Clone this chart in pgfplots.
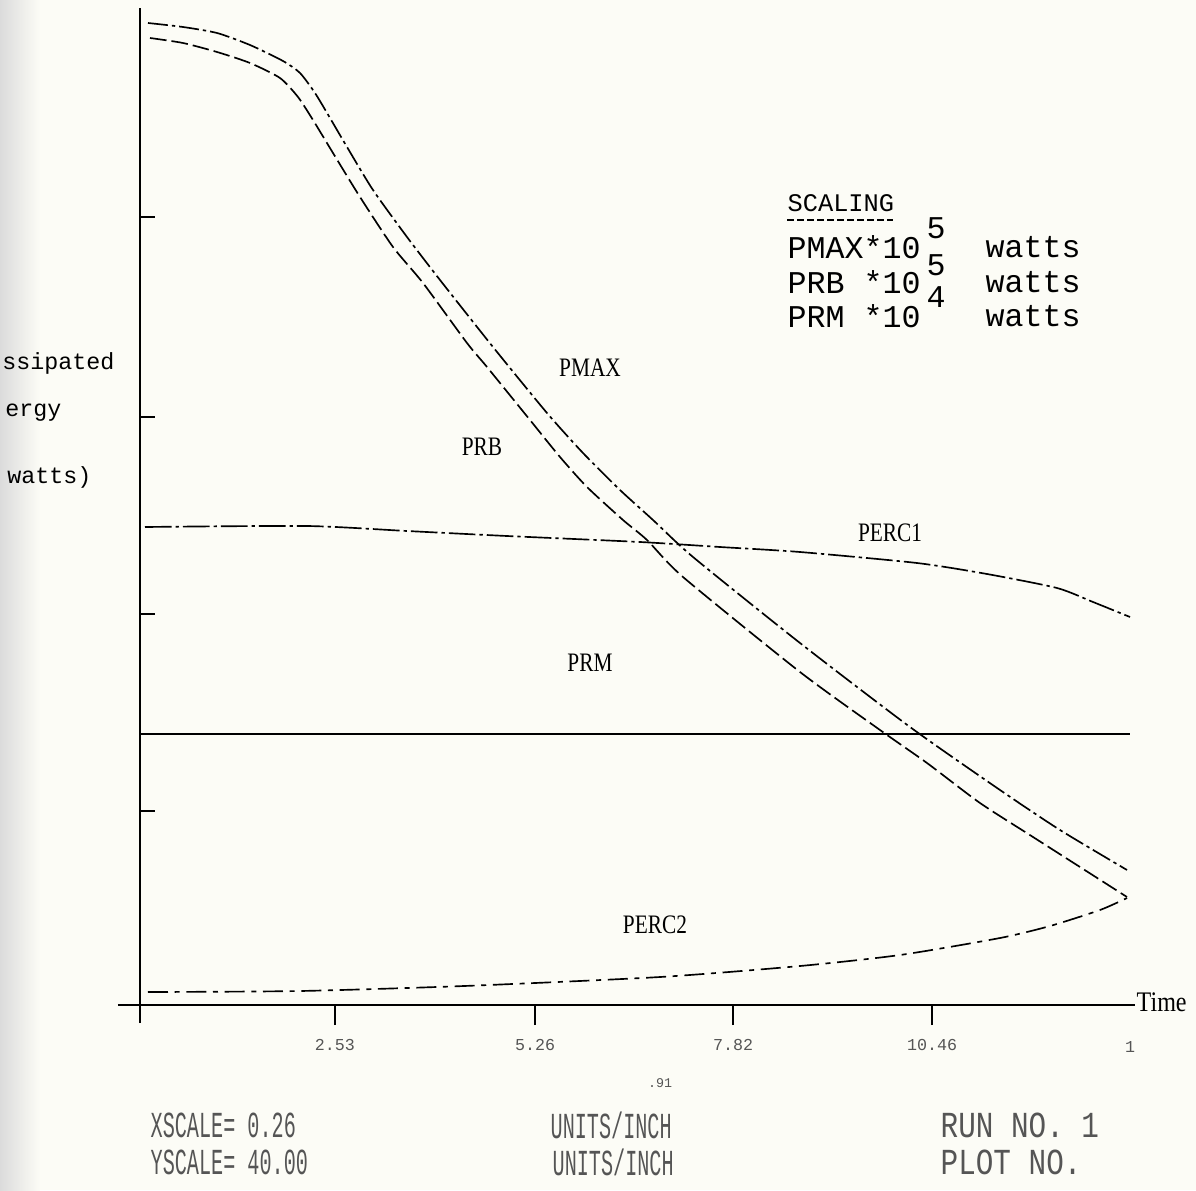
\documentclass[border=0pt]{standalone}
\usepackage{pgfplots}
\pgfplotsset{compat=1.18}
\usepackage{fontspec}
\setmainfont{Liberation Serif}
\newfontfamily\mono{Liberation Mono}
\definecolor{paper}{RGB}{252,252,246}
\definecolor{dotink}{RGB}{85,85,85}

% units: 1 unit = 1 px of the scan, origin where the axes cross
\begin{document}
\begin{tikzpicture}
\path[use as bounding box, fill=paper] (-42pt,-55.5pt) rectangle (316.8pt,301.5pt);
\shade[left color=black!14, right color=paper] (-42pt,-55.5pt) rectangle (-30pt,301.5pt);
\begin{axis}[
    anchor=origin, at={(0pt,0pt)},
    x=0.3pt, y=0.3pt,
    xmin=-22, xmax=995, ymin=-18, ymax=997,
    axis lines=middle,
    axis line style={-, line width=0.8pt},
    clip=false,
    tick align=outside,
    major tick length=6pt,
    xtick={195,395,593,792},
    xticklabels={2.53,5.26,7.82,10.46},
    xticklabel style={font=\mono\fontsize{5}{6}\selectfont, text=dotink, anchor=center, yshift=-6pt},
    x tick style={line width=0.8pt, black},
    ytick=\empty,
]
% PMAX
\addplot[black, line width=0.5pt, smooth, tension=0.4, dash pattern=on 6pt off 1.2pt on 1pt off 1.2pt] coordinates {
(8,982)(43,978)(77,972)(110,960)(143,944)(160,932)(175,912)(190,887)(207,858)
(233,815)(267,768)(300,725)(353,658)(407,592)(443,552)(480,515)(513,485)
(553,448)(660,362)(770,278)(860,215)(920,175)(987,135)};
% PRB
\addplot[black, line width=0.5pt, smooth, tension=0.4, dash pattern=on 5pt off 1.5pt] coordinates {
(10,967)(43,962)(77,953)(110,942)(140,927)(158,908)(173,885)(193,852)(220,808)
(253,758)(283,722)(327,662)(347,638)(390,585)(420,548)(447,518)(483,485)
(507,465)(543,428)(660,333)(740,275)(787,242)(840,202)(893,168)(987,108)};
% PERC1
\addplot[black, line width=0.5pt, smooth, tension=0.4, dash pattern=on 8pt off 1.2pt on 1pt off 1.2pt] coordinates {
(5,478)(167,479)(267,474)(367,469)(500,463)(580,458)(660,453)(777,442)
(847,431)(917,417)(953,403)(990,388)};
% PRM
\addplot[black, line width=0.6pt] coordinates {(0,271)(990,271)};
% PERC2
\addplot[black, line width=0.5pt, smooth, tension=0.4, dash pattern=on 6pt off 2pt on 1.5pt off 2pt] coordinates {
(8,13)(160,14)(324,19)(520,28)(660,39)(760,50)(860,67)(910,79)(960,95)(987,107)};

% y ticks, pointing into the plot
\draw[line width=0.8pt] (0,194) -- (15,194);
\draw[line width=0.8pt] (0,391) -- (15,391);
\draw[line width=0.8pt] (0,588) -- (15,588);
\draw[line width=0.8pt] (0,788) -- (15,788);

% curve names
\node[font=\fontsize{8}{9}\selectfont] at (450,637) {\scalebox{0.8}[1]{PMAX}};
\node[font=\fontsize{8}{9}\selectfont] at (342,558) {\scalebox{0.8}[1]{PRB}};
\node[font=\fontsize{8}{9}\selectfont] at (750,472) {\scalebox{0.8}[1]{PERC1}};
\node[font=\fontsize{8}{9}\selectfont] at (450,342) {\scalebox{0.8}[1]{PRM}};
\node[font=\fontsize{8}{9}\selectfont] at (515,80) {\scalebox{0.8}[1]{PERC2}};
\node[font=\fontsize{8.5}{9}\selectfont, anchor=west, inner sep=0pt] at (996,3) {\scalebox{0.85}[1]{Time}};
\node[font=\mono\fontsize{5}{6}\selectfont, text=dotink] at (990,-42) {1};
\node[font=\mono\fontsize{4}{5}\selectfont, text=dotink] at (520,-78) {.91};

% scaling block
\node[font=\mono\fontsize{7.6}{8}\selectfont, anchor=west, inner sep=0pt] at (647,802) {SCALING};
\draw[line width=0.6pt, dash pattern=on 2pt off 1pt] (647,785) -- (753,785);
\begin{scope}[every node/.style={font=\mono\fontsize{9.5}{10}\selectfont, anchor=west, inner sep=0pt}]
\node at (647,758) {PMAX*10};
\node at (647,723) {PRB *10};
\node at (647,689) {PRM *10};
\node at (845,758) {watts};
\node at (845,723) {watts};
\node at (845,689) {watts};
\node at (786,777) {5};
\node at (786,740) {5};
\node at (786,708) {4};
\end{scope}

% y label, as much of it as the scan shows
\begin{scope}[every node/.style={font=\mono\fontsize{7}{8}\selectfont, anchor=east, inner sep=0pt}]
\node at (-25,642) {ssipated};
\node at (-78,592) {ergy};
\node at (-48,528) {watts)};
\end{scope}

% plotter footer
\begin{scope}[every node/.style={font=\mono\fontsize{11}{12}\selectfont, text=dotink, anchor=west, inner sep=0pt}]
\node at (10,-120) {\scalebox{0.55}[1]{XSCALE= 0.26}};
\node at (410,-120) {\scalebox{0.55}[1]{UNITS/INCH}};
\node at (800,-120) {\scalebox{0.8}[1]{RUN NO. 1}};
\node at (10,-157) {\scalebox{0.55}[1]{YSCALE= 40.00}};
\node at (412,-157) {\scalebox{0.55}[1]{UNITS/INCH}};
\node at (800,-157) {\scalebox{0.8}[1]{PLOT NO.}};
\end{scope}
\end{axis}
\end{tikzpicture}
\end{document}
